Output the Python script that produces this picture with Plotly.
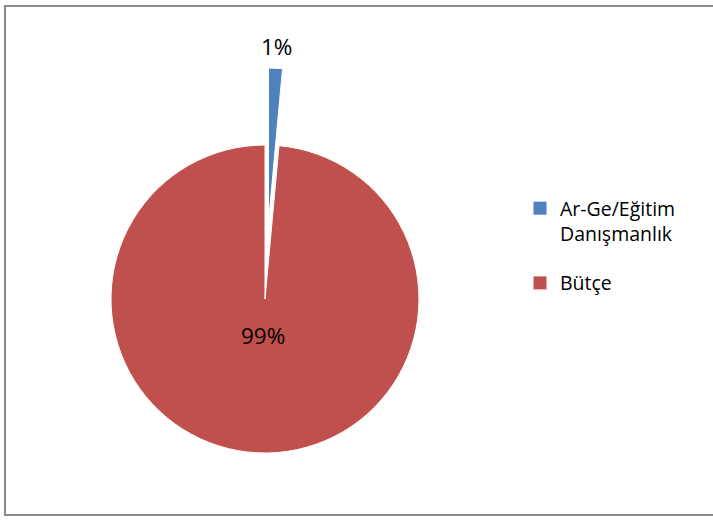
import math
import plotly.graph_objects as go

labels = ["Ar-Ge/Eğitim<br>Danışmanlık", "Bütçe"]
legend_names = ["Ar-Ge/Eğitim<br>Danışmanlık", "Bütçe"]
values = [1.45, 98.55]
colors = ["#4F81BD", "#C0504D"]
clear = "rgba(0,0,0,0)"

W, H = 713, 521
cx, cy, R = 265.0, 299.0, 154.0
pull_px = 77.0

def dom(cx_, cy_, r_):
    return dict(x=[(cx_ - r_) / W, (cx_ + r_) / W],
                y=[(H - cy_ - r_) / H, (H - cy_ + r_) / H])

total = sum(values)
frac = values[0] / total
mid = frac * math.pi  # half of first slice angle, clockwise from 12 o'clock
bx = cx + pull_px * math.sin(mid)
by = cy - pull_px * math.cos(mid)

font = "'Open Sans', 'Noto Sans', sans-serif"
fig = go.Figure()

# main pie (Bütçe)
fig.add_trace(go.Pie(
    labels=labels, values=values, sort=False, direction="clockwise", rotation=0,
    marker=dict(colors=[clear, colors[1]],
                line=dict(color=[clear, "white"], width=[0, 1])),
    textinfo="none",
    domain=dom(cx, cy, R), showlegend=False, hoverinfo="skip",
))
# exploded slice (Ar-Ge)
fig.add_trace(go.Pie(
    labels=labels, values=values, sort=False, direction="clockwise", rotation=0,
    marker=dict(colors=[colors[0], clear],
                line=dict(color=["white", clear], width=[1, 0])),
    textinfo="none",
    domain=dom(bx, by, R), showlegend=False, hoverinfo="skip",
))
# legend entries
for i, name in enumerate(legend_names):
    fig.add_trace(go.Scatter(
        x=[None], y=[None], mode="markers", name=name,
        marker=dict(symbol="square", size=13, color=colors[i]),
        legendgroup="g%d" % i, showlegend=True,
    ))

# data labels (percent of total), placed from the pie geometry
pct = [f"{v / total * 100:.0f}%" for v in values]
lx = bx + (R + 22) * math.sin(mid)
ly = by - (R + 22) * math.cos(mid)
big_mid = math.pi * (frac + 1.0)
rx = cx + 0.24 * R * math.sin(big_mid)
ry = cy - 0.24 * R * math.cos(big_mid)
annotations = [
    dict(x=lx / W, y=(H - ly) / H, xref="paper", yref="paper", text=pct[0],
         showarrow=False, xanchor="center", yanchor="middle",
         font=dict(family=font, size=22.5, color="black")),
    dict(x=rx / W, y=(H - ry) / H, xref="paper", yref="paper", text=pct[1],
         showarrow=False, xanchor="center", yanchor="middle",
         font=dict(family=font, size=22.5, color="black")),
]

fig.update_layout(
    width=W, height=H,
    margin=dict(l=0, r=0, t=0, b=0),
    paper_bgcolor="white", plot_bgcolor="white",
    xaxis=dict(visible=False), yaxis=dict(visible=False),
    legend=dict(x=520 / W, xanchor="left", y=(H - 189) / H, yanchor="top",
                font=dict(family=font, size=19.5, color="black"),
                traceorder="grouped", tracegroupgap=21, valign="top",
                itemwidth=30, bgcolor="rgba(0,0,0,0)"),
    annotations=annotations,
    shapes=[dict(type="rect", xref="paper", yref="paper",
                 x0=5 / W, x1=1.01, y0=6 / H, y1=(H - 6) / H,
                 line=dict(color="#8a8a8a", width=2))],
)
fig.write_html("out.html", config={"displayModeBar": False},
               post_script="document.body.style.margin='0';document.body.style.overflow='hidden';")
